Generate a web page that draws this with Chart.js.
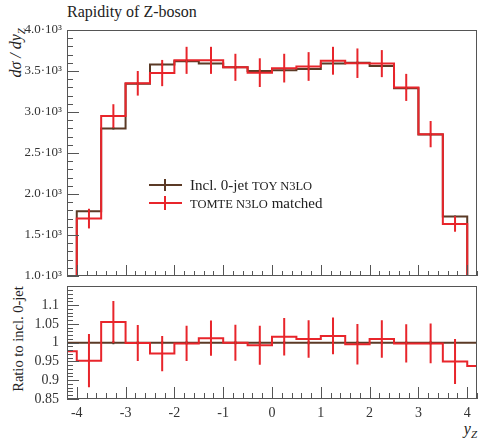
<!DOCTYPE html>
<html><head><meta charset="utf-8">
<script src="https://cdn.jsdelivr.net/npm/chart.js@4.4.1/dist/chart.umd.min.js"></script>
<style>
body{margin:0;background:#fff;width:479px;height:439px;overflow:hidden;position:relative;font-family:"Liberation Serif",serif;color:#222;}
.abs{position:absolute;white-space:nowrap;}
canvas{position:absolute;left:0;}
.rot{transform-origin:0 0;transform:rotate(-90deg);}
</style></head><body>
<div class="abs" style="left:67px;top:3px;font-size:16px;line-height:18px;">Rapidity of Z-boson</div>
<div class="abs rot" style="left:8px;top:128px;width:100px;text-align:right;font-size:16px;line-height:16px;font-style:italic;">dσ / dy<sub style="font-size:11px">Z</sub></div>
<div class="abs rot" style="left:10px;top:419px;width:160px;text-align:center;font-size:14.5px;line-height:16px;">Ratio to incl. 0-jet</div>
<div class="abs" style="right:2px;top:421px;font-size:16px;line-height:16px;font-style:italic;">y<sub style="font-size:11px">Z</sub></div>

<canvas id="main" width="479" height="290" style="top:0"></canvas>
<canvas id="ratio" width="479" height="169" style="top:270px"></canvas>

<div class="abs" style="left:149px;top:184px;width:33px;height:2px;background:#5b3a26"></div>
<div class="abs" style="left:164px;top:179px;width:2px;height:12px;background:#5b3a26"></div>
<div class="abs" style="left:190px;top:177px;font-size:15px;line-height:16px;">Incl. 0-jet <span style="font-size:12.5px">TOY N3LO</span></div>
<div class="abs" style="left:149px;top:202px;width:33px;height:2px;background:#e8252b"></div>
<div class="abs" style="left:164px;top:196px;width:2px;height:14px;background:#e8252b"></div>
<div class="abs" style="left:190px;top:195px;font-size:15px;line-height:16px;"><span style="font-size:12.5px">TOMTE N3LO</span> matched</div>

<script>
// ---- data ----
const binEdges = [-4.5,-4.0,-3.5,-3.0,-2.5,-2.0,-1.5,-1.0,-0.5,0.0,0.5,1.0,1.5,2.0,2.5,3.0,3.5,4.0,4.5];
const incl0jet    = [700,1790,2800,3345,3580,3620,3590,3545,3500,3510,3525,3590,3600,3560,3290,2725,1725,700];
const incl0jetErr = [4,12,14,15,16,16,16,16,16,16,16,16,16,16,15,14,12,4];
const tomte       = [680,1700,2950,3350,3475,3630,3630,3545,3480,3535,3555,3625,3595,3590,3300,2730,1635,655];
const tomteErr    = [40,120,145,150,160,165,165,165,175,175,175,170,180,165,165,160,95,40];
const incl0jetRatio    = [1,1,1,1,1,1,1,1,1,1,1,1,1,1,1,1,1,1];
const incl0jetRatioErr = [0.004,0.004,0.004,0.004,0.004,0.004,0.004,0.004,0.004,0.004,0.004,0.004,0.004,0.004,0.004,0.004,0.004,0.004];
const tomteRatio    = [0.977,0.952,1.055,0.999,0.971,0.998,1.012,1.000,0.993,1.016,1.010,1.018,0.996,1.010,0.998,0.998,0.950,0.938];
const tomteRatioErr = [0.03,0.071,0.056,0.048,0.047,0.047,0.047,0.048,0.052,0.050,0.050,0.049,0.054,0.050,0.051,0.053,0.060,0.06];
const xTicks = [-4,-3,-2,-1,0,1,2,3,4];
const mainYTicks = [1000,1500,2000,2500,3000,3500,4000];
const ratioYTicks = [0.85,0.9,0.95,1,1.05,1.1];

const RED = '#e8252b', BROWN = '#5b3a26', FRAME = '#555';
const FONT = '"Liberation Serif", serif';

const stepPoints = (edges, vals) => vals.flatMap((v,i)=>[{x:edges[i],y:v},{x:edges[i+1],y:v}]);

const deco = {
  id:'deco',
  afterDatasetsDraw(chart, args, o){
    const {ctx, chartArea:a, scales:{x,y}} = chart;
    ctx.save();
    ctx.beginPath(); ctx.rect(a.left,a.top,a.width,a.height); ctx.clip();
    o.errs.forEach(e=>{
      ctx.strokeStyle = e.color; ctx.lineWidth = e.width;
      e.vals.forEach((v,i)=>{
        const xc = x.getPixelForValue((binEdges[i]+binEdges[i+1])/2);
        ctx.beginPath();
        ctx.moveTo(xc, y.getPixelForValue(v-e.err[i]));
        ctx.lineTo(xc, y.getPixelForValue(v+e.err[i]));
        ctx.stroke();
      });
    });
    ctx.restore();
    ctx.save();
    ctx.strokeStyle = FRAME; ctx.lineWidth = 1;
    const yi0 = Math.ceil(y.min/o.yMinor-1e-6), yi1 = Math.floor(y.max/o.yMinor+1e-6);
    for(let i=yi0;i<=yi1;i++){
      const v=i*o.yMinor, r=v/o.yMajor, major=Math.abs(r-Math.round(r))<1e-6;
      const p=Math.round(y.getPixelForValue(v))+0.5;
      ctx.beginPath(); ctx.moveTo(a.left,p); ctx.lineTo(a.left+(major?o.yMajLen:o.yMinLen),p); ctx.stroke();
    }
    const xi0 = Math.ceil(x.min/0.2-1e-6), xi1 = Math.floor(x.max/0.2+1e-6);
    for(let i=xi0;i<=xi1;i++){
      const v=i*0.2, major=Math.abs(v-Math.round(v))<1e-6;
      const p=Math.round(x.getPixelForValue(v))+0.5;
      ctx.beginPath(); ctx.moveTo(p,a.bottom); ctx.lineTo(p,a.bottom-(major?o.xMajLen:o.xMinLen)); ctx.stroke();
    }
    ctx.strokeRect(Math.round(a.left)+0.5, Math.round(a.top)+0.5, Math.round(a.width)-1, Math.round(a.height)-1);
    ctx.restore();
  }
};

const lineDs = (data,color) => ({data, borderColor:color, borderWidth:2, pointRadius:0, tension:0, fill:false, clip:0});

new Chart(document.getElementById('main'), {
  type:'line',
  data:{datasets:[lineDs(stepPoints(binEdges,tomte),RED), lineDs(stepPoints(binEdges,incl0jet),BROWN)]},
  options:{
    responsive:false, animation:false, devicePixelRatio:1,
    layout:{padding:{top:30,right:2,bottom:14,left:0}},
    plugins:{legend:{display:false},tooltip:{enabled:false},
      deco:{errs:[{vals:incl0jet,err:incl0jetErr,color:BROWN,width:2},{vals:tomte,err:tomteErr,color:RED,width:2}],
            yMinor:100,yMajor:500,yMajLen:12,yMinLen:6,xMajLen:11,xMinLen:5}},
    scales:{
      x:{type:'linear',min:-4.2,max:4.2,display:false},
      y:{type:'linear',min:1000,max:4000,
         grid:{display:false,drawTicks:false},border:{display:false},
         afterFit:s=>{s.width=67;},
         afterBuildTicks:s=>{s.ticks=mainYTicks.map(v=>({value:v}));},
         ticks:{padding:5,color:'#333',font:{family:FONT,size:13},callback:v=>(v/1000).toFixed(1)+'·10³'}}
    }
  },
  plugins:[deco]
});

new Chart(document.getElementById('ratio'), {
  type:'line',
  data:{datasets:[lineDs(stepPoints(binEdges,tomteRatio),RED), lineDs(stepPoints(binEdges,incl0jetRatio),BROWN)]},
  options:{
    responsive:false, animation:false, devicePixelRatio:1,
    layout:{padding:{top:8,right:2,bottom:0,left:0}},
    plugins:{legend:{display:false},tooltip:{enabled:false},
      deco:{errs:[{vals:incl0jetRatio,err:incl0jetRatioErr,color:BROWN,width:2},{vals:tomteRatio,err:tomteRatioErr,color:RED,width:2}],
            yMinor:0.01,yMajor:0.05,yMajLen:12,yMinLen:6,xMajLen:12,xMinLen:6}},
    scales:{
      x:{type:'linear',min:-4.2,max:4.2,
         grid:{display:false,drawTicks:false},border:{display:false},
         afterFit:s=>{s.height=40;},
         afterBuildTicks:s=>{s.ticks=xTicks.map(v=>({value:v}));},
         ticks:{padding:6,color:'#333',font:{family:FONT,size:14},maxRotation:0,callback:v=>String(v)}},
      y:{type:'linear',min:0.85,max:1.15,
         grid:{display:false,drawTicks:false},border:{display:false},
         afterFit:s=>{s.width=67;},
         afterBuildTicks:s=>{s.ticks=ratioYTicks.map(v=>({value:v}));},
         ticks:{padding:8,color:'#333',font:{family:FONT,size:14},callback:v=>String(Number(v.toFixed(2)))}}
    }
  },
  plugins:[deco]
});
</script>
</body></html>
